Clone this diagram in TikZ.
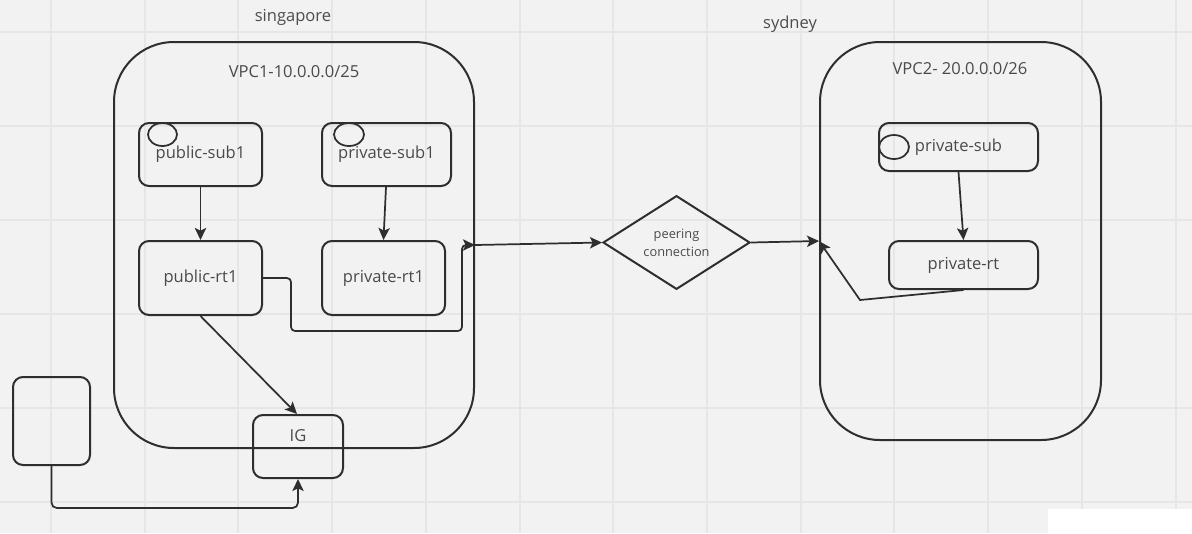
\documentclass[tikz,border=0pt]{standalone}
\usepackage{fontspec}
\setmainfont{Open Sans}
\usetikzlibrary{shapes.geometric,arrows.meta}
\definecolor{bg}{HTML}{F2F2F2}
\definecolor{gridc}{HTML}{E6E6E6}
\definecolor{ln}{HTML}{2E2E2E}
\definecolor{tx}{HTML}{4A4A4A}
\tikzset{
  box/.style={draw=ln, line width=1.5pt, rectangle, rounded corners=7.5pt, inner sep=0pt, text=tx, font=\fontsize{12.4}{14}\selectfont},
  vpc/.style={draw=ln, line width=1.5pt, rectangle, rounded corners=45pt, inner sep=0pt},
  lbl/.style={text=tx, font=\fontsize{12.4}{14}\selectfont, inner sep=0pt},
  ring/.style={draw=ln, line width=1.3pt},
  conn/.style={draw=ln, line width=1.3pt, -{Stealth[length=9pt,width=8.5pt,inset=2pt]}},
}
\begin{document}
\begin{tikzpicture}[x=0.75pt,y=-0.75pt]
\useasboundingbox (0,0) rectangle (1192,533);
\fill[bg] (0,0) rectangle (1192,533);
\foreach \gx in {51,145,238,332,426,520,613,707,801,894,988,1082,1176}
  \draw[gridc, line width=1pt] (\gx,0) -- (\gx,533);
\foreach \gy in {32,126,220,314,408,502}
  \draw[gridc, line width=1pt] (0,\gy) -- (1192,\gy);
\fill[white] (1048,509) rectangle (1192,533);

% region labels
\node[lbl, text=ln!85] (sg) at (293,17) {singapore};
\node[lbl, text=ln!85] (sy) at (790,24) {sydney};

% VPCs
\node[vpc, minimum width={360*0.75pt}, minimum height={406*0.75pt}] (vpc1) at (294,245) {};
\node[vpc, minimum width={281*0.75pt}, minimum height={398*0.75pt}] (vpc2) at (960.5,241) {};
\node[lbl] (vpc1l) at (294,72) {VPC1-10.0.0.0/25};
\node[lbl] (vpc2l) at (960,69) {VPC2- 20.0.0.0/26};

% VPC1 contents
\node[box, minimum width={123*0.75pt}, minimum height={63*0.75pt}] (pubsub) at (200.5,154.5) {public-sub1};
\node[box, minimum width={129*0.75pt}, minimum height={63*0.75pt}] (privsub) at (386.5,154.5) {private-sub1};
\node[box, minimum width={123*0.75pt}, minimum height={74*0.75pt}] (pubrt) at (200.5,278) {public-rt1};
\node[box, minimum width={123*0.75pt}, minimum height={74*0.75pt}] (privrt) at (383.5,278) {private-rt1};
\draw[ring] (162.5,134.5) ellipse [x radius={14.5*0.75pt}, y radius={11.5*0.75pt}];
\draw[ring] (349,134.5) ellipse [x radius={15*0.75pt}, y radius={11.5*0.75pt}];

% IG and left box
\node[box, minimum width={90*0.75pt}, minimum height={63*0.75pt}] (ig) at (298,446.5) {};
\node[lbl] (igl) at (298,436) {IG};
\node[box, minimum width={77*0.75pt}, minimum height={88*0.75pt}] (lbox) at (51.5,421) {};

% peering
\node[draw=ln, line width=1.5pt, diamond, inner sep=0pt, minimum width={147*0.75pt}, minimum height={91*0.75pt}, text=tx, font=\fontsize{9.6}{13.5}\selectfont, align=center] (peer) at (676.5,242.5) {peering\\connection};

% VPC2 contents
\node[box, minimum width={159*0.75pt}, minimum height={48*0.75pt}] (psub) at (958.5,147) {private-sub};
\node[box, minimum width={149*0.75pt}, minimum height={48*0.75pt}] (prt) at (963.5,265) {private-rt};
\draw[ring] (894,147) ellipse [x radius={15*0.75pt}, y radius={12*0.75pt}];

% connectors
\draw[conn] (pubsub.south) -- (pubrt.north);
\draw[conn] ([xshift=-0.5*0.75pt]privsub.south) -- (privrt.north);
\coordinate (bend) at (462,331);
\draw[conn, rounded corners=3pt] (pubrt.east) -- ++(28,0) |- (bend) |- (vpc1.east);
\draw[conn] (vpc1.east) -- (peer.west);
\draw[conn] (pubrt.south) -- ([xshift=-0.75pt]ig.north);
\draw[conn, rounded corners=4pt] (lbox.south) |- (ig.south |- 0,508) -- (ig.south);
\draw[conn] (peer.east) -- (vpc2.west);
\draw[conn] (psub.south) -- (prt.north);
\coordinate (kink) at (860,300);
\draw[conn] (prt.south) -- (kink) -- (vpc2.west);
\end{tikzpicture}
\end{document}
